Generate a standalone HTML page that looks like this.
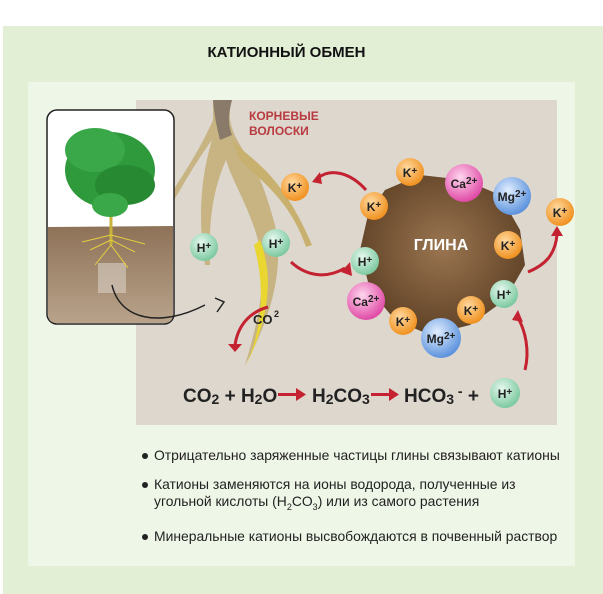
<!DOCTYPE html>
<html><head><meta charset="utf-8"><style>
html,body{margin:0;padding:0;background:#fff;}
body{width:603px;height:594px;position:relative;overflow:hidden;font-family:"Liberation Sans","Noto Sans CJK SC",sans-serif;}
.t{position:absolute;font-size:13.9px;color:#222;}
</style></head><body>
<div style="position:absolute;left:3px;top:26px;width:600px;height:568px;background:#e2efd5"></div>
<div style="position:absolute;left:28px;top:82px;width:547px;height:484px;background:#eef6e7"></div>
<div style="position:absolute;left:136px;top:100px;width:421px;height:325px;background:#ddd7ce"></div>
<div style="position:absolute;left:0;top:44px;width:573px;text-align:center;font-weight:bold;font-size:15px;color:#111;">КАТИОННЫЙ ОБМЕН</div>
<svg width="603" height="594" style="position:absolute;left:0;top:0">
<defs>
<radialGradient id="gk" cx="40%" cy="35%" r="65%"><stop offset="0" stop-color="#ffd9a0"/><stop offset="1" stop-color="#f0911f"/></radialGradient>
<radialGradient id="gh" cx="40%" cy="35%" r="65%"><stop offset="0" stop-color="#e6f8ee"/><stop offset="1" stop-color="#7cc9a0"/></radialGradient>
<radialGradient id="gc" cx="40%" cy="35%" r="65%"><stop offset="0" stop-color="#ffd6ee"/><stop offset="1" stop-color="#e04ba6"/></radialGradient>
<radialGradient id="gm" cx="40%" cy="35%" r="65%"><stop offset="0" stop-color="#e2eeff"/><stop offset="1" stop-color="#5c93dd"/></radialGradient>
<linearGradient id="soil" x1="0" y1="0" x2="0" y2="1"><stop offset="0" stop-color="#8e7258"/><stop offset="1" stop-color="#b8a38a"/></linearGradient>
<radialGradient id="clay" cx="50%" cy="45%" r="60%"><stop offset="0" stop-color="#9a7550"/><stop offset="1" stop-color="#5a3d22"/></radialGradient>
</defs>
<!-- roots -->
<path d="M213,100 L232,100 C226,120 232,135 250,160 C262,180 268,200 275,225 C285,270 270,320 245,365 C262,310 268,270 255,230 C245,200 232,180 226,160 C215,185 208,215 210,265 L205,265 C198,220 200,180 212,140 C190,170 175,200 165,215 L160,210 C180,180 200,150 213,120 Z" fill="#c4b07a" opacity="0.9"/>
<path d="M232,140 C250,160 280,170 312,245 L306,247 C290,200 260,180 240,160 Z" fill="#c8b16e"/>
<path d="M260,240 C275,280 268,320 245,368 C262,330 266,290 254,245 Z" fill="#e9d630"/>
<path d="M213,100 L232,100 C228,115 228,125 232,135 L220,140 C216,125 214,112 213,100 Z" fill="#8a7a6a"/>
<text x="249" y="120" font-family="Liberation Sans" font-weight="bold" font-size="12" fill="#b83a3f">КОРНЕВЫЕ</text>
<text x="249" y="135" font-family="Liberation Sans" font-weight="bold" font-size="12" fill="#b83a3f">ВОЛОСКИ</text>
<!-- plant box -->
<rect x="47" y="110" width="127" height="214" rx="10" fill="#fff" stroke="#222" stroke-width="1.5"/>
<path d="M48,227 L173,226 L173,314 Q173,323 164,323 L57,323 Q48,323 48,314 Z" fill="url(#soil)"/>
<rect x="98" y="263" width="28" height="30" fill="#d8cfc4" opacity="0.6"/>
<line x1="111" y1="165" x2="111" y2="245" stroke="#c9b23a" stroke-width="3"/>
<g stroke="#e4cf40" stroke-width="1" fill="none"><path d="M111,240 L90,250 M111,240 L135,252 M111,245 L95,265 M111,245 L128,268 M111,235 L82,242 M111,235 L145,244"/></g>
<g fill="#2f9a3c"><ellipse cx="110" cy="170" rx="45" ry="38"/><ellipse cx="95" cy="150" rx="30" ry="22" fill="#3aa848"/><ellipse cx="125" cy="185" rx="30" ry="20" fill="#278a32"/><ellipse cx="110" cy="205" rx="18" ry="12" fill="#3aa848"/></g>
<path d="M112,285 C120,320 160,328 205,305" stroke="#222" stroke-width="1.5" fill="none"/>
<path d="M215,298 L224,302 L217,312" stroke="#222" stroke-width="1.5" fill="none"/>
<text x="253" y="324" font-family="Liberation Sans" font-weight="bold" font-size="13" fill="#222">CO</text><text x="274" y="317" font-family="Liberation Sans" font-weight="bold" font-size="9" fill="#222">2</text>
<!-- clay -->
<path d="M385,190 L420,175 L465,180 L500,195 L520,230 L525,265 L505,300 L470,325 L430,335 L395,320 L370,290 L360,250 L368,215 Z" fill="url(#clay)"/>
<text x="441" y="250" text-anchor="middle" font-family="Liberation Sans" font-weight="bold" font-size="16" fill="#fff">ГЛИНА</text>
<!-- red arrows -->
<g stroke="#c42230" stroke-width="3" fill="none">
<path d="M366,190 C350,172 330,168 318,178"/>
<path d="M291,262 C305,275 325,280 345,268"/>
<path d="M528,272 C545,265 555,255 557,235"/>
<path d="M525,370 C530,350 525,330 518,318"/>
<path d="M268,307 C250,312 238,325 235,345"/>
</g>
<g fill="#c42230"><path d="M312,182 L320,172 L322,184Z"/><path d="M350,262 L352,276 L341,272Z"/><path d="M551,236 L557,226 L563,236Z"/><path d="M512,320 L518,310 L523,322Z"/><path d="M228,344 L242,344 L235,352Z"/></g>
<!-- balls -->
<g font-family="Liberation Sans" font-weight="bold" font-size="12" fill="#222" text-anchor="middle">
<circle cx="295" cy="187" r="14" fill="url(#gk)"/><text x="295" y="192">K<tspan dy="-3" font-size="10">+</tspan></text>
<circle cx="410" cy="172" r="14" fill="url(#gk)"/><text x="410" y="177">K<tspan dy="-3" font-size="10">+</tspan></text>
<circle cx="464" cy="183" r="19" fill="url(#gc)"/><text x="464" y="188">Ca<tspan dy="-4" font-size="10">2+</tspan></text>
<circle cx="512" cy="196" r="19" fill="url(#gm)"/><text x="512" y="201">Mg<tspan dy="-4" font-size="10">2+</tspan></text>
<circle cx="560" cy="212" r="14" fill="url(#gk)"/><text x="560" y="217">K<tspan dy="-3" font-size="10">+</tspan></text>
<circle cx="374" cy="206" r="14" fill="url(#gk)"/><text x="374" y="211">K<tspan dy="-3" font-size="10">+</tspan></text>
<circle cx="508" cy="245" r="14" fill="url(#gk)"/><text x="508" y="250">K<tspan dy="-3" font-size="10">+</tspan></text>
<circle cx="204" cy="247" r="14" fill="url(#gh)"/><text x="204" y="252">H<tspan dy="-3" font-size="10">+</tspan></text>
<circle cx="276" cy="243" r="14" fill="url(#gh)"/><text x="276" y="248">H<tspan dy="-3" font-size="10">+</tspan></text>
<circle cx="365" cy="261" r="14" fill="url(#gh)"/><text x="365" y="266">H<tspan dy="-3" font-size="10">+</tspan></text>
<circle cx="366" cy="301" r="19" fill="url(#gc)"/><text x="366" y="306">Ca<tspan dy="-4" font-size="10">2+</tspan></text>
<circle cx="504" cy="294" r="14" fill="url(#gh)"/><text x="504" y="299">H<tspan dy="-3" font-size="10">+</tspan></text>
<circle cx="403" cy="321" r="14" fill="url(#gk)"/><text x="403" y="326">K<tspan dy="-3" font-size="10">+</tspan></text>
<circle cx="471" cy="310" r="14" fill="url(#gk)"/><text x="471" y="315">K<tspan dy="-3" font-size="10">+</tspan></text>
<circle cx="441" cy="338" r="20" fill="url(#gm)"/><text x="441" y="343">Mg<tspan dy="-4" font-size="10">2+</tspan></text>
<circle cx="505" cy="393" r="15" fill="url(#gh)"/><text x="505" y="398">H<tspan dy="-3" font-size="10">+</tspan></text>
</g>
<!-- equation -->
<g font-family="Liberation Sans" font-weight="bold" font-size="19" fill="#222">
<text x="183" y="402">CO<tspan font-size="14" dy="2">2</tspan><tspan dy="-2"> + H</tspan><tspan font-size="14" dy="2">2</tspan><tspan dy="-2">O</tspan></text>
<text x="312" y="402">H<tspan font-size="14" dy="2">2</tspan><tspan dy="-2">CO</tspan><tspan font-size="14" dy="2">3</tspan></text>
<text x="404" y="402">HCO<tspan font-size="14" dy="2">3</tspan><tspan dy="-8" font-size="14"> -</tspan><tspan dy="6"> +</tspan></text>
</g>
<g fill="#c42230"><rect x="278" y="393" width="20" height="3"/><path d="M296,388 L306,394.5 L296,401Z"/><rect x="371" y="393" width="20" height="3"/><path d="M389,388 L399,394.5 L389,401Z"/></g>
<g fill="#222"><circle cx="145" cy="456" r="3"/><circle cx="145" cy="485" r="3"/><circle cx="145" cy="537" r="3"/></g>
</svg>
<div class="t" style="left:154px;top:447px">Отрицательно заряженные частицы глины связывают катионы</div>
<div class="t" style="left:154px;top:476px;line-height:17px">Катионы заменяются на ионы водорода, полученные из<br>угольной кислоты (H<sub style="font-size:9px">2</sub>CO<sub style="font-size:9px">3</sub>) или из самого растения</div>
<div class="t" style="left:154px;top:528px">Минеральные катионы высвобождаются в почвенный раствор</div>
</body></html>
